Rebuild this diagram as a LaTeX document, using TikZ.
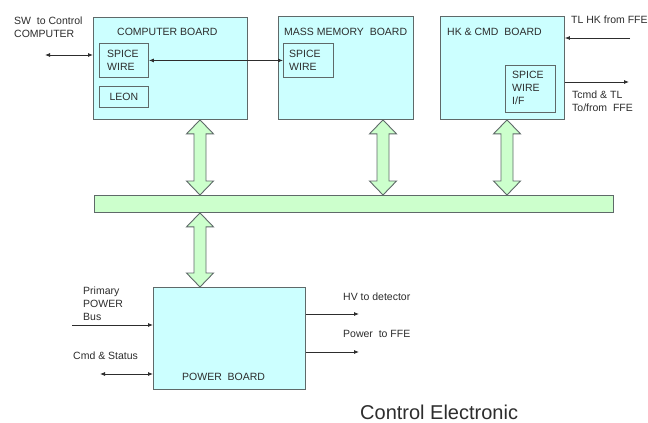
\documentclass[tikz,border=0pt]{standalone}
\usepackage{fontspec}
\setmainfont{Liberation Sans}
\usetikzlibrary{positioning, arrows.meta, calc}
\definecolor{boardfill}{RGB}{204,255,255}
\definecolor{busfill}{RGB}{204,255,204}
\definecolor{edgegray}{RGB}{95,105,105}
\definecolor{ink}{RGB}{45,45,45}
\tikzset{
  board/.style={rectangle, draw=edgegray, line width=0.9pt, fill=boardfill, anchor=north west, inner sep=0pt},
  subbox/.style={board},
  bus/.style={board, fill=busfill},
  busarrow/.style={draw=edgegray, line width=0.9pt, fill=busfill, line join=miter},
  txt/.style={text=ink, font=\fontsize{10.5}{13}\selectfont, align=left, anchor=west, inner sep=0pt},
  link/.style={draw=ink, line width=0.8pt, -{Latex[length=5pt,width=4pt]}},
  dlink/.style={draw=ink, line width=0.8pt, {Latex[length=5pt,width=4pt]}-{Latex[length=5pt,width=4pt]}}
}
% fat double arrow between two points on one vertical
\newcommand{\fatarrow}[2]{%
  \path let \p1=#1, \p2=#2 in [busarrow]
    (\x1,\y1) -- (\x1+13.5pt,\y1-14pt) -- (\x1+6pt,\y1-14pt) -- (\x1+6pt,\y2+14pt)
    -- (\x1+13.5pt,\y2+14pt) -- (\x1,\y2) -- (\x1-13.5pt,\y2+14pt) -- (\x1-6pt,\y2+14pt)
    -- (\x1-6pt,\y1-14pt) -- (\x1-13.5pt,\y1-14pt) -- cycle;}

\begin{document}
\begin{tikzpicture}[x=1pt, y=-1pt]
    \fill[white] (0,0) rectangle (648,423);
    \useasboundingbox (0,0) rectangle (648,423);

    % boards
    \node[board, minimum width=154pt, minimum height=102pt] (cb) at (93,17) {};
    \node[board, minimum width=135pt, minimum height=103pt] (mm) at (278,16) {};
    \node[board, minimum width=124pt, minimum height=103pt] (hk) at (440,16) {};
    \node[subbox, minimum width=49pt, minimum height=34pt] (cbsw) at (99,43) {};
    \node[subbox, minimum width=49pt, minimum height=21pt] (leon) at (99,86) {};
    \node[subbox, minimum width=50pt, minimum height=34pt] (mmsw) at (283,43) {};
    \node[subbox, minimum width=50pt, minimum height=47pt] (hksw) at (505,65) {};
    \node[bus, minimum width=519pt, minimum height=17pt] (bus) at (94,195) {};
    \node[board, minimum width=152pt, minimum height=102pt] (pwr) at (153,287) {};

    % board texts
    \node[txt] (cbtitle) at (117,32) {COMPUTER BOARD};
    \node[txt] (mmtitle) at (284,32) {MASS MEMORY\ \ BOARD};
    \node[txt] (hktitle) at (447,32) {HK \& CMD\ \ BOARD};
    \node[txt] (cbswtext) at (107,60) {SPICE\\WIRE};
    \node[txt] (leontext) at (leon.center) [anchor=center] {LEON};
    \node[txt] (mmswtext) at (289,60) {SPICE\\WIRE};
    \node[txt] (hkswtext) at (512,88) {SPICE\\WIRE\\I/F};
    \node[txt] (pwrtitle) at (182,377) {POWER\ \ BOARD};

    % outside texts
    \node[txt] (swtext) at (14,27) {SW\ \ to Control\\COMPUTER};
    \node[txt] (tlhk) at (571,20) {TL HK from FFE};
    \node[txt] (tcmd) at (572,101) {Tcmd \& TL\\To/from\ \ FFE};
    \node[txt] (primary) at (83,304) {Primary\\POWER\\Bus};
    \node[txt] (cmdtext) at (73,356) {Cmd \& Status};
    \node[txt] (hvtext) at (343,297) {HV to detector};
    \node[txt] (ffetext) at (343,334) {Power\ \ to FFE};
    \node[txt, anchor=base west, font=\fontsize{20}{24}\selectfont] (caption) at (360,419) {Control Electronic};

    % bus arrows
    \coordinate (cbx) at (200,0);
    \coordinate (mmx) at (383,0);
    \coordinate (hkx) at (507,0);
    \fatarrow{(cbx |- cb.south)}{(cbx |- bus.north)}
    \fatarrow{(mmx |- mm.south)}{(mmx |- bus.north)}
    \fatarrow{(hkx |- hk.south)}{(hkx |- bus.north)}
    \fatarrow{(cbx |- bus.south)}{(cbx |- pwr.north)}

    % signal lines
    \coordinate (swend) at (45,55);
    \coordinate (tlin) at (630,38);
    \coordinate (tcout) at (629,82);
    \coordinate (ppin) at (72,325);
    \coordinate (cmdend) at (100,374);
    \coordinate (hvout) at (359,314);
    \coordinate (ffeout) at (359,352);
    \draw[dlink] (swend) -- (swend -| cb.west);
    \draw[dlink] (cbsw.east) -- (mmsw.west);
    \draw[link] (tlin) -- (tlin -| hk.east);
    \draw[link] (tcout -| hk.east) -- (tcout);
    \draw[link] (ppin) -- (ppin -| pwr.west);
    \draw[dlink] (cmdend) -- (cmdend -| pwr.west);
    \draw[link] (hvout -| pwr.east) -- (hvout);
    \draw[link] (ffeout -| pwr.east) -- (ffeout);
\end{tikzpicture}
\end{document}
